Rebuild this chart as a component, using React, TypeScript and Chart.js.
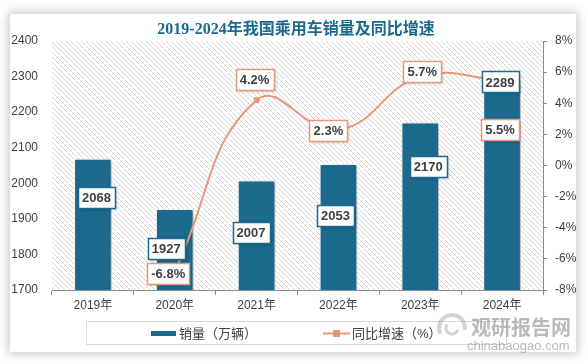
import React, { useEffect, useRef } from 'react';
import { Chart, registerables } from 'chart.js';
Chart.register(...registerables);

const titleText = '2019-2024年我国乘用车销量及同比增速';
const years = ['2019年', '2020年', '2021年', '2022年', '2023年', '2024年'];
const sales = [2068, 1927, 2007, 2053, 2170, 2289];
const growth: (number | null)[] = [null, -6.8, 4.2, 2.3, 5.7, 5.5];
const salesName = '销量（万辆）';
const growthName = '同比增速（%）';
const leftMin = 1700, leftMax = 2400, leftStep = 100;
const rightMin = -8, rightMax = 8, rightStep = 2;

// label placement nudges in pixels (dx, dy) relative to bar top / line point
const barLabelNudge = [[3.5, 38], [-8.5, 39], [-5.5, 52], [-3, 51], [8, 44], [-2, 1.5]];
const lineLabelNudge = [null, [-6.5, 2], [-2, -21], [-10, 1], [2, -5], [-2, 50]];

const BLUE = '#1b6a8e';
const ORANGE = '#e9967a';
const TXT = '#404040';
const SANS = "'Liberation Sans', 'Noto Sans CJK SC', sans-serif";

function labelBox(ctx: CanvasRenderingContext2D, text: string, cx: number, cy: number, border: string) {
  ctx.save();
  ctx.font = `bold 13px ${SANS}`;
  const w = Math.round(ctx.measureText(text).width + 8);
  const h = 21;
  const x = Math.round(cx - w / 2) + 0.5, y = Math.round(cy - h / 2) + 0.5;
  ctx.shadowColor = 'rgba(0,0,0,0.25)';
  ctx.shadowBlur = 3;
  ctx.shadowOffsetX = 1;
  ctx.shadowOffsetY = 1;
  ctx.fillStyle = '#fff';
  ctx.fillRect(x, y, w, h);
  ctx.shadowColor = 'transparent';
  ctx.lineWidth = 1.5;
  ctx.strokeStyle = border;
  ctx.strokeRect(x, y, w, h);
  ctx.fillStyle = TXT;
  ctx.textAlign = 'center';
  ctx.textBaseline = 'middle';
  ctx.fillText(text, cx, cy + 1);
  ctx.restore();
}

const customPlugin = {
  id: 'custom',
  beforeDraw(chart: any) {
    const { ctx, chartArea: a } = chart;
    const pc = document.createElement('canvas');
    pc.width = 5; pc.height = 5;
    const p = pc.getContext('2d')!;
    p.fillStyle = '#ffffff';
    p.fillRect(0, 0, 5, 5);
    p.fillStyle = '#d6d6d6';
    for (let i = 0; i < 5; i++) p.fillRect(i, i, 1, 1);
    const pat = ctx.createPattern(pc, 'repeat');
    ctx.save();
    ctx.fillStyle = pat;
    ctx.fillRect(a.left, a.top, a.right - a.left, a.bottom - a.top);
    ctx.restore();
    // title
    ctx.save();
    ctx.font = "bold 16px 'Liberation Serif', 'Noto Sans CJK SC', serif";
    ctx.fillStyle = BLUE;
    ctx.textAlign = 'center';
    ctx.textBaseline = 'middle';
    ctx.fillText(titleText, 296, 30);
    ctx.restore();
  },
  beforeDatasetDraw(chart: any, args: any) {
    if (args.index === 0) {
      const ctx = chart.ctx;
      ctx.save();
      ctx.shadowColor = 'rgba(0,0,0,0.35)';
      ctx.shadowBlur = 5;
      ctx.shadowOffsetX = 2;
      ctx.shadowOffsetY = 1;
    }
  },
  afterDatasetDraw(chart: any, args: any) {
    if (args.index === 0) chart.ctx.restore();
  },
  afterDatasetsDraw(chart: any) {
    const ctx = chart.ctx;
    const bars = chart.getDatasetMeta(0).data;
    bars.forEach((b: any, i: number) => {
      const n = barLabelNudge[i];
      labelBox(ctx, String(sales[i]), b.x + n[0], b.y + n[1], BLUE);
    });
    const pts = chart.getDatasetMeta(1).data;
    pts.forEach((pt: any, i: number) => {
      const n = lineLabelNudge[i];
      if (growth[i] == null || !n) return;
      labelBox(ctx, growth[i]!.toFixed(1) + '%', pt.x + n[0], pt.y + n[1], ORANGE);
    });
  },
  afterDraw(chart: any) {
    const ctx = chart.ctx;
    ctx.save();
    // legend
    ctx.strokeStyle = '#d9d9d9';
    ctx.lineWidth = 1;
    ctx.strokeRect(86.5, 321.5, 420, 23);
    ctx.fillStyle = BLUE;
    ctx.fillRect(151, 331, 25, 5);
    ctx.font = `13px ${SANS}`;
    ctx.fillStyle = TXT;
    ctx.textBaseline = 'middle';
    ctx.textAlign = 'left';
    ctx.fillText(salesName, 179, 334);
    ctx.strokeStyle = ORANGE;
    ctx.lineWidth = 2;
    ctx.beginPath();
    ctx.moveTo(323, 333.5); ctx.lineTo(350, 333.5);
    ctx.stroke();
    ctx.fillStyle = ORANGE;
    ctx.fillRect(333, 330, 7, 7);
    ctx.fillStyle = TXT;
    ctx.fillText(growthName, 352, 334);
    // watermark
    ctx.globalAlpha = 0.6;
    ctx.strokeStyle = '#b4b4b4';
    ctx.lineWidth = 4;
    ctx.beginPath();
    ctx.arc(452, 328, 13, Math.PI * 0.85, Math.PI * 2.05);
    ctx.stroke();
    ctx.lineWidth = 3;
    ctx.beginPath();
    ctx.arc(452, 328, 6, Math.PI * 0.1, Math.PI * 1.2);
    ctx.stroke();
    ctx.fillStyle = '#8c8c8c';
    ctx.font = "bold 20px 'Noto Sans CJK SC', sans-serif";
    ctx.fillText('观研报告网', 471, 327);
    ctx.font = `13px ${SANS}`;
    ctx.fillText('chinabaogao.com', 467, 346);
    ctx.restore();
  },
};

export default function App() {
  const ref = useRef<HTMLCanvasElement>(null);
  useEffect(() => {
    const chart = new Chart(ref.current!, {
      type: 'bar',
      data: {
        labels: years,
        datasets: [
          {
            type: 'bar',
            label: salesName,
            data: sales,
            backgroundColor: BLUE,
            borderColor: '#ffffff',
            borderWidth: 1,
            barThickness: 37,
            yAxisID: 'y',
            order: 2,
          },
          {
            type: 'line',
            label: growthName,
            data: growth,
            borderColor: ORANGE,
            backgroundColor: ORANGE,
            borderWidth: 2,
            tension: 0.45,
            pointStyle: 'rect',
            pointRadius: 4,
            pointBorderWidth: 0,
            yAxisID: 'y1',
            order: 1,
          },
        ],
      } as any,
      options: {
        responsive: false,
        animation: false,
        layout: { padding: { top: 41, left: 0, right: 0, bottom: 0 } },
        plugins: { legend: { display: false }, tooltip: { enabled: false } },
        scales: {
          x: {
            offset: true,
            grid: { display: true, drawOnChartArea: false, drawTicks: true, tickLength: 5, color: '#8c8c8c', offset: true },
            border: { display: true, color: '#8c8c8c' },
            ticks: { color: TXT, font: { size: 12, family: SANS }, padding: 3 },
            afterFit: (s: any) => { s.height = 74; },
          },
          y: {
            position: 'left',
            min: leftMin,
            max: leftMax,
            grid: { display: false, drawTicks: false },
            border: { display: false },
            ticks: { stepSize: leftStep, color: TXT, font: { size: 12, family: SANS }, padding: 14, callback: (v: any) => String(v) },
            afterFit: (s: any) => { s.width = 52; },
          },
          y1: {
            position: 'right',
            min: rightMin,
            max: rightMax,
            grid: { display: true, drawOnChartArea: false, drawTicks: true, tickLength: 4, color: '#8c8c8c' },
            border: { display: true, color: '#8c8c8c' },
            ticks: { stepSize: rightStep, color: TXT, font: { size: 12, family: SANS }, padding: 8, callback: (v: any) => v + '%' },
            afterFit: (s: any) => { s.width = 45; },
          },
        },
      } as any,
      plugins: [customPlugin],
    });
    return () => chart.destroy();
  }, []);
  return (
    <div style={{ position: 'fixed', left: 0, top: 0, width: 588, height: 364, background: '#fff', overflow: 'hidden' }}>
      <div style={{ position: 'absolute', left: 10, top: 14, width: 566, height: 338, background: '#fff', boxShadow: '0 0 10px 2px rgba(0,0,0,0.22)' }} />
      <canvas ref={ref} width={588} height={364} style={{ position: 'absolute', left: 0, top: 0, width: 588, height: 364 }} />
    </div>
  );
}
